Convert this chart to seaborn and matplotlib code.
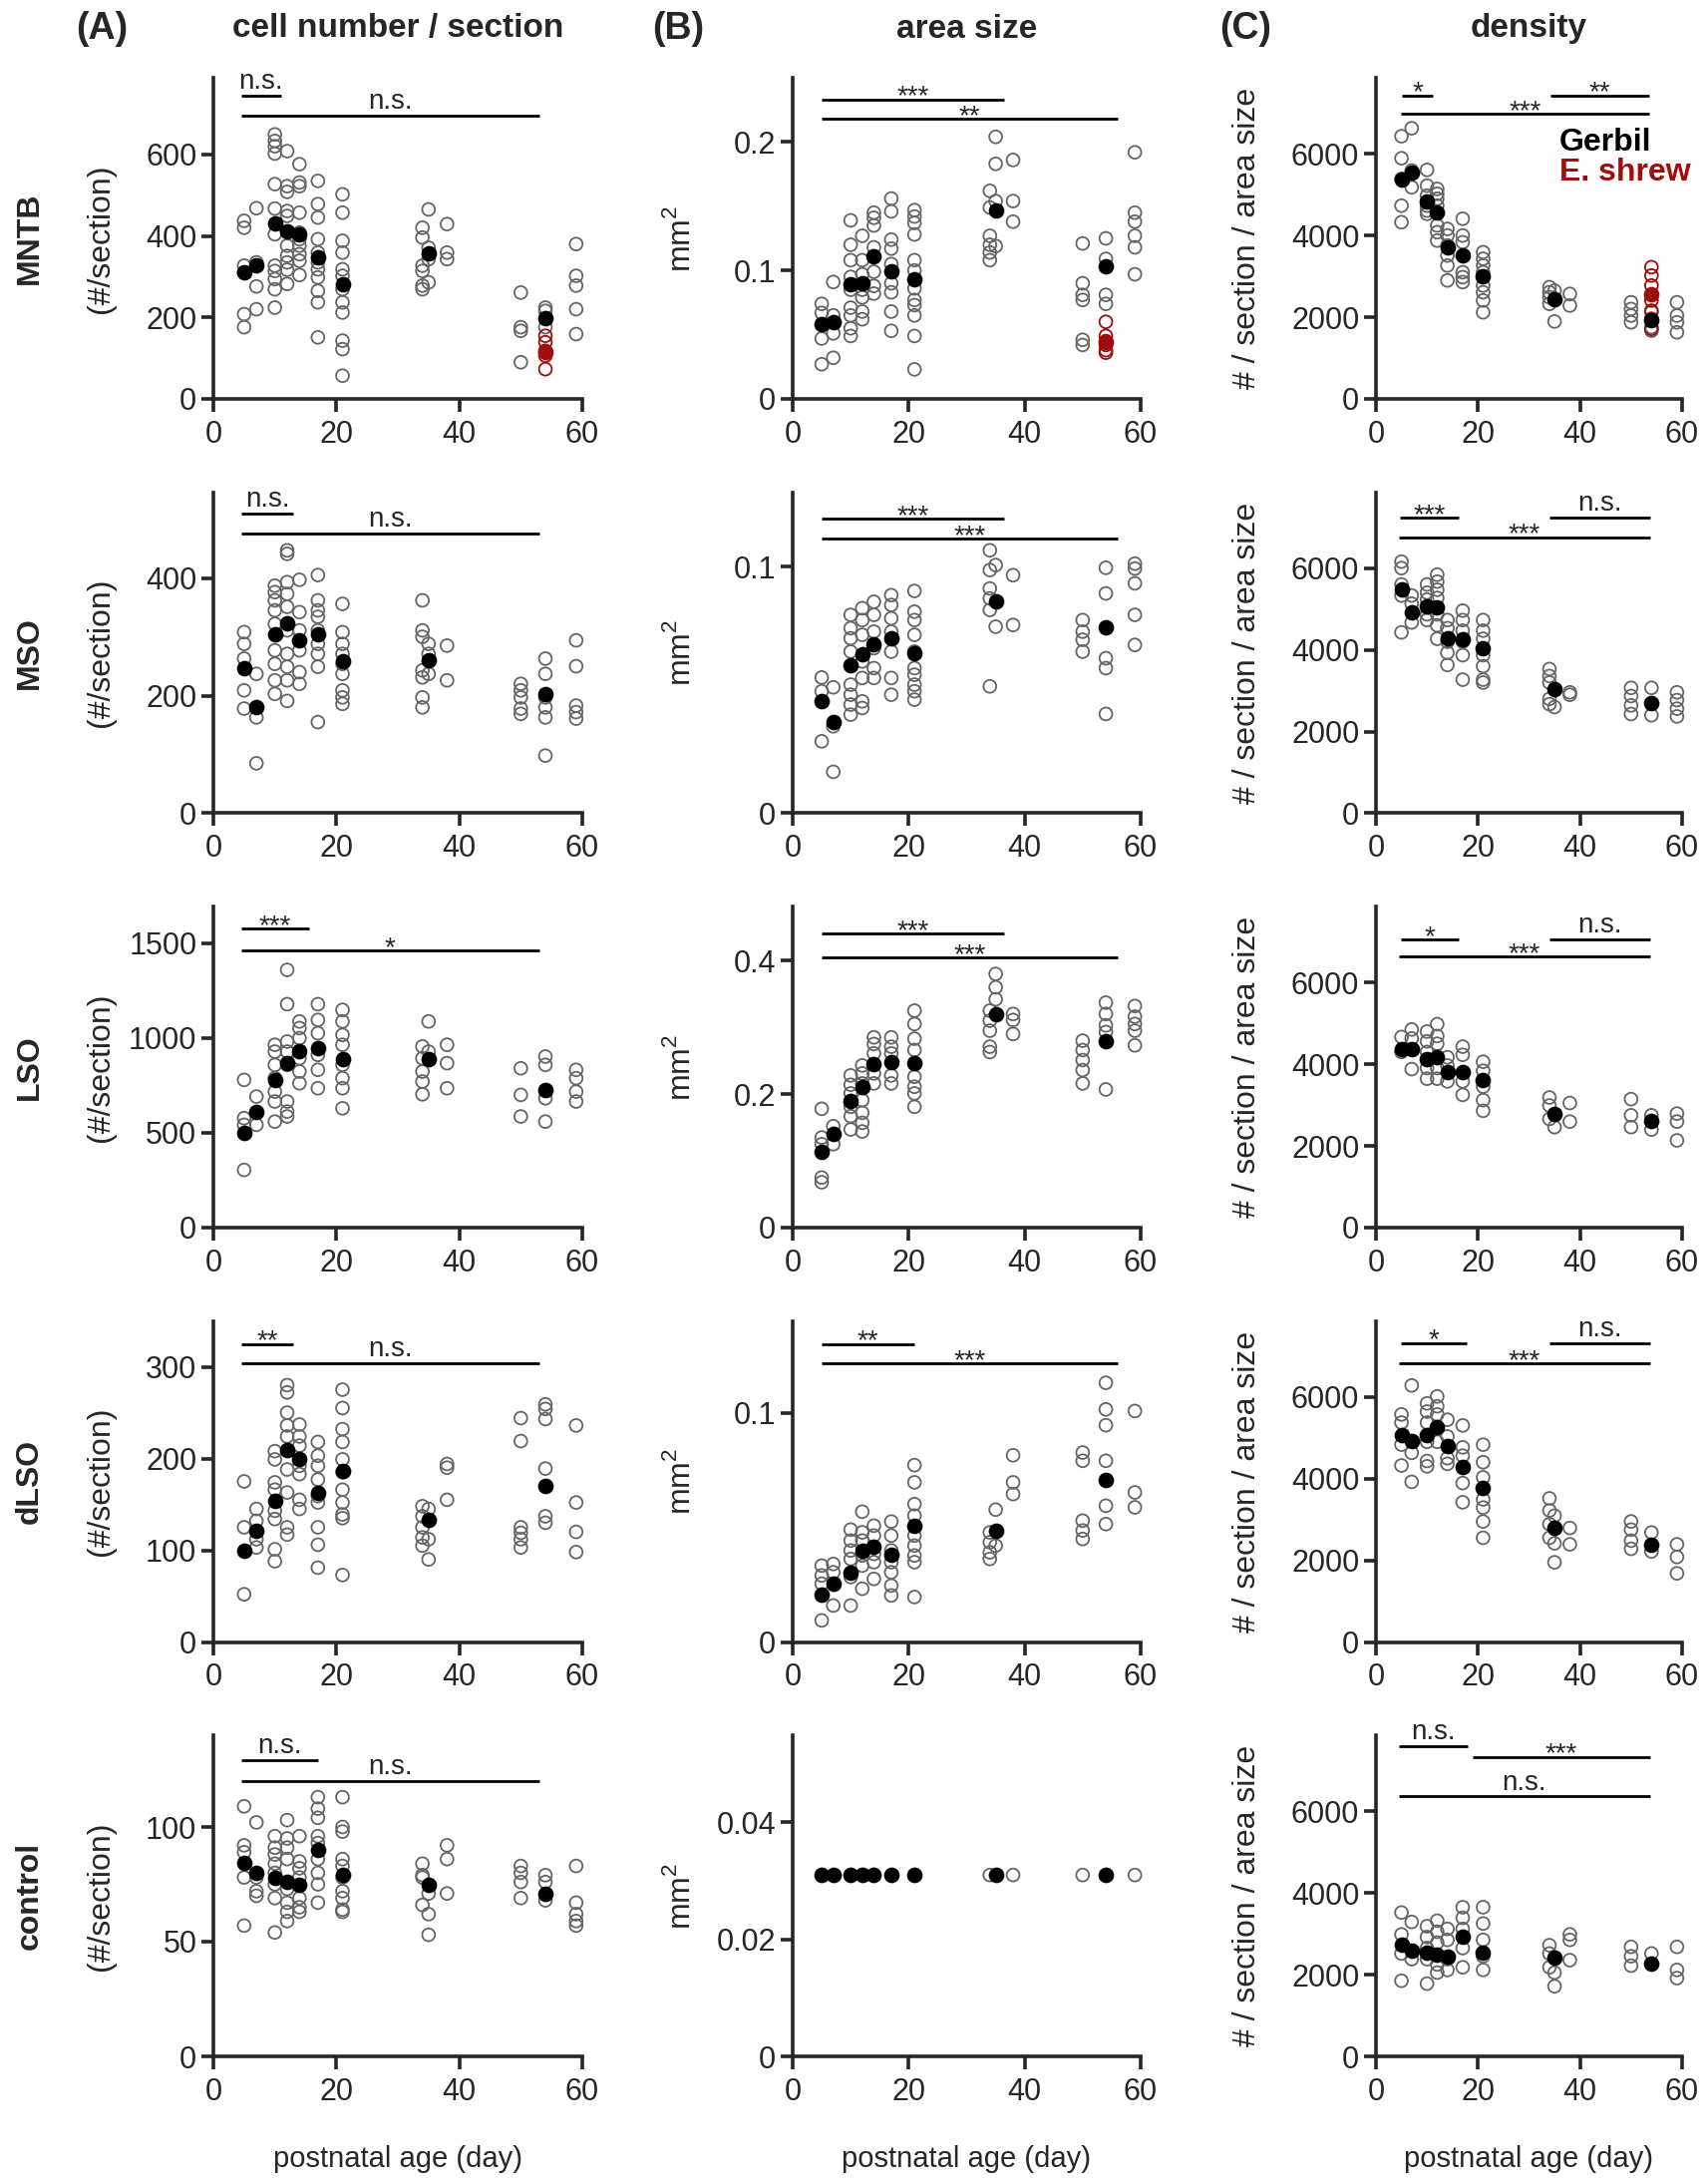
import matplotlib
matplotlib.use("Agg")
import pandas as pd
import matplotlib.pyplot as plt
import seaborn as sns
from matplotlib.ticker import FuncFormatter

sns.set_style("ticks")
plt.rcParams['font.family'] = ['Liberation Sans', 'DejaVu Sans']
plt.rcParams['mathtext.fontset'] = 'custom'
plt.rcParams['mathtext.rm'] = 'Liberation Sans'

# postnatal ages of the single animals / of the group means
ages = [5, 7, 10, 12, 14, 17, 21, 34, 35, 38, 50, 54, 59]
mean_ages = [5, 7, 10, 12, 14, 17, 21, 35, 54]
shrew_age = 54

# ---------------- MNTB
mntb_cells = [[437, 420, 327, 310, 208, 176], [468, 335, 327, 276, 220],
              [649, 633, 620, 602, 527, 467, 404, 327, 314, 294, 269, 224],
              [608, 522, 508, 461, 449, 376, 351, 335, 317, 282],
              [576, 531, 522, 457, 408, 392, 376, 355, 339, 304],
              [535, 478, 445, 392, 359, 335, 318, 298, 265, 237, 151],
              [502, 457, 388, 359, 318, 302, 269, 237, 212, 143, 122, 57],
              [420, 396, 327, 314, 278, 269], [465, 371, 343, 286], [429, 359, 343],
              [261, 176, 167, 90], [224, 216, 176], [380, 302, 278, 220, 159]]
mntb_cells_mean = [310, 327, 431, 411, 404, 347, 282, 358, 198]
mntb_cells_shrew = [155, 139, 118, 106, 73]
mntb_cells_shrew_mean = 114

mntb_area = [[.074, .067, .047, .027], [.091, .065, .051, .032],
             [.139, .120, .108, .095, .085, .071, .065, .055, .049],
             [.127, .108, .097, .085, .079, .068, .062],
             [.145, .141, .135, .118, .099, .088, .082],
             [.156, .146, .124, .117, .105, .090, .083, .068, .053],
             [.147, .142, .137, .128, .108, .100, .086, .077, .073, .065, .049, .023],
             [.162, .149, .127, .120, .114, .108], [.204, .183, .154, .119], [.186, .154, .138],
             [.121, .090, .081, .077, .046, .042], [.125, .109, .081, .074],
             [.192, .145, .138, .127, .118, .097]]
mntb_area_mean = [.058, .060, .089, .090, .111, .099, .093, .147, .103]
mntb_area_shrew = [.060, .049, .045, .042, .038, .036]
mntb_area_shrew_mean = .044

mntb_density = [[6430, 5890, 5385, 4730, 4325], [6625, 5590, 5180],
                [5605, 5220, 4975, 4730, 4610, 4530],
                [5140, 5020, 4900, 4730, 4245, 4080, 3875],
                [4160, 4000, 3755, 3510, 3265, 2900],
                [4410, 4000, 3835, 3100, 2980, 2860],
                [3590, 3430, 3265, 3100, 2775, 2610, 2410, 2120],
                [2735, 2610, 2490, 2325], [2650, 1895], [2570, 2285],
                [2365, 2200, 2040, 1875], [2120, 1755, 1670], [2365, 2040, 1875, 1630]]
mntb_density_mean = [5370, 5550, 4830, 4555, 3715, 3510, 3000, 2430, 1935]
mntb_density_shrew = [3225, 3020, 2775, 2410, 2160, 1960, 1715]
mntb_density_shrew_mean = 2570

# ---------------- MSO
mso_cells = [[308, 288, 263, 209, 178], [237, 163, 85],
             [387, 376, 362, 345, 322, 277, 254, 226, 203],
             [447, 441, 393, 373, 351, 311, 271, 249, 226, 191],
             [397, 342, 311, 277, 240, 220],
             [405, 362, 345, 334, 311, 288, 271, 249, 155],
             [356, 308, 288, 271, 254, 237, 209, 197, 186],
             [362, 311, 300, 243, 231, 197, 180], [288, 271, 237], [285, 226],
             [220, 209, 197, 178, 169], [263, 237, 197, 180, 163, 98], [294, 250, 183, 172, 161]]
mso_cells_mean = [246, 180, 304, 323, 294, 304, 258, 260, 203]

mso_area = [[.0551, .0495, .0292], [.0511, .0353, .0168],
            [.0805, .0751, .0710, .0656, .0522, .0481, .0441, .0400],
            [.0832, .0784, .0724, .0616, .0549, .0454, .0427],
            [.0858, .0805, .0737, .0670, .0589, .0549],
            [.0885, .0845, .0791, .0737, .0656, .0549, .0481],
            [.0902, .0818, .0784, .0724, .0656, .0589, .0562, .0522, .0495, .0461],
            [.1067, .0987, .0912, .0872, .0825, .0515], [.1007, .0757], [.0966, .0764],
            [.0784, .0737, .0704, .0656], [.0996, .0892, .0629, .0589, .0403],
            [.1013, .0993, .0933, .0805, .0683]]
mso_area_mean = [.0457, .0371, .0602, .0646, .0686, .0710, .0650, .0861, .0753]

mso_density = [[6160, 6000, 5600, 5330, 4427], [5330, 5130, 4670],
               [5600, 5400, 5230, 4870, 4730],
               [5840, 5670, 5470, 5270, 4870, 4600, 4270],
               [4730, 4530, 4200, 3930, 3630],
               [4960, 4730, 4470, 4200, 3870, 3270],
               [4730, 4470, 4270, 3870, 3600, 3270, 3200],
               [3530, 3360, 3200, 2800, 2670], [2600], [2960, 2900],
               [3070, 2870, 2640, 2430], [3070, 2400], [2960, 2770, 2560, 2370]]
mso_density_mean = [5490, 4930, 5070, 5040, 4290, 4270, 4040, 3030, 2690]

# ---------------- LSO
lso_cells = [[779, 577, 542, 304], [691, 542],
             [964, 928, 858, 788, 717, 665, 559],
             [1359, 1178, 981, 928, 858, 665, 612, 586],
             [1087, 1052, 999, 893, 823, 761],
             [1178, 1095, 1025, 911, 832, 735],
             [1148, 1087, 1016, 964, 858, 788, 735, 629],
             [955, 893, 823, 770, 703], [1087, 928], [964, 867, 735],
             [840, 700, 586], [902, 858, 682, 559], [832, 788, 717, 665]]
lso_cells_mean = [498, 612, 779, 867, 932, 946, 890, 890, 726]

lso_area = [[.178, .135, .125, .075, .068], [.152, .125],
            [.228, .214, .201, .181, .167, .147],
            [.243, .231, .216, .191, .172, .157, .144],
            [.285, .275, .261, .231, .216],
            [.285, .271, .261, .228, .216],
            [.325, .305, .283, .266, .226, .211, .201, .181],
            [.325, .310, .295, .271, .263], [.380, .360, .342], [.320, .311, .290],
            [.280, .266, .251, .236, .216], [.337, .320, .303, .293, .207],
            [.332, .316, .305, .295, .273]]
lso_area_mean = [.113, .141, .189, .210, .245, .248, .247, .319, .279]

lso_density = [[4666, 4300], [4850, 4630, 3880],
               [4800, 4560, 4300, 3905, 3645],
               [4980, 4690, 4500, 3905, 3645],
               [4170, 3970, 3580],
               [4430, 4230, 3580, 3250],
               [4060, 3840, 3450, 3120, 2860],
               [3185, 2990, 2660], [2460], [3050, 2595],
               [3145, 2750, 2460], [2750, 2400], [2790, 2595, 2135]]
lso_density_mean = [4365, 4365, 4130, 4170, 3815, 3800, 3620, 2790, 2620]

# ---------------- dLSO
dlso_cells = [[175, 125, 52], [145, 132, 112, 103],
              [208, 199, 174, 166, 143, 134, 101, 88],
              [280, 272, 250, 236, 224, 188, 163, 125, 117],
              [237, 224, 214, 192, 183, 155, 145],
              [218, 203, 192, 177, 159, 152, 125, 106, 81],
              [275, 255, 232, 218, 199, 185, 166, 152, 139, 135, 73],
              [148, 137, 125, 114, 105], [145, 112, 90], [194, 190, 155],
              [244, 219, 125, 119, 112, 103], [259, 254, 243, 189, 137, 130],
              [236, 152, 120, 98]]
dlso_cells_mean = [100, 121, 154, 209, 199, 163, 186, 133, 170]

dlso_area = [[.0333, .0290, .0254, .0094], [.0340, .0304, .0159],
             [.0490, .0442, .0399, .0362, .0283, .0159],
             [.0568, .0478, .0442, .0377, .0333, .0232],
             [.0507, .0464, .0384, .0348, .0275],
             [.0525, .0464, .0399, .0348, .0304, .0246, .0203],
             [.0771, .0696, .0601, .0551, .0464, .0420, .0377, .0348, .0196],
             [.0478, .0435, .0391, .0362], [.0577, .0420], [.0814, .0696, .0645],
             [.0826, .0790, .0529, .0486, .0449], [.1130, .1014, .0945, .0790, .0594, .0514],
             [.1007, .0652, .0587]]
dlso_area_mean = [.0206, .0254, .0304, .0399, .0417, .0380, .0507, .0486, .0707]

dlso_density = [[5570, 5370, 4830, 4320], [6280, 4630, 3920],
                [5840, 5640, 5370, 4900, 4430, 4300],
                [6010, 5770, 5570, 4900],
                [5440, 5030, 4500, 4360],
                [5300, 4765, 4560, 3890, 3420],
                [4830, 4400, 4030, 3490, 3290, 2950, 2550],
                [3515, 3220, 2885, 2550], [3090, 2415, 1950], [2790, 2390],
                [2950, 2750, 2480, 2280], [2680, 2215], [2390, 2080, 1680]]
dlso_density_mean = [5070, 4925, 5070, 5260, 4790, 4295, 3760, 2790, 2390]

# ---------------- control
ctrl_cells = [[109, 92, 89, 78, 57], [102, 78, 72, 70],
              [96, 91, 88, 84, 80, 75, 69, 54],
              [103, 95, 91, 86, 73, 67, 63, 59],
              [96, 85, 82, 78, 69, 65, 63],
              [113, 108, 104, 96, 93, 86, 80, 75, 67],
              [113, 100, 98, 86, 83, 78, 72, 69, 64, 63],
              [84, 79, 78, 66], [71, 62, 53], [92, 86, 71],
              [83, 80, 76, 69], [79, 76, 68], [83, 67, 62, 59, 57]]
ctrl_cells_mean = [84.5, 80, 78, 76, 75, 90, 79, 75, 71]

ctrl_area = [[], [], [], [.031], [.031], [], [], [.031], [], [.031], [.031], [], [.031]]
ctrl_area_mean = [.031, .031, .031, .031, .031, .031, .031, .031, .031]

ctrl_density = [[3520, 2985, 2517, 1850], [3290, 2380],
                [3185, 2920, 2650, 2380, 1780],
                [3320, 3050, 2785, 2250, 2050],
                [3120, 2850, 2380, 2115],
                [3650, 3390, 3120, 2650, 2180],
                [3650, 3250, 2850, 2450, 2115],
                [2720, 2517, 2180], [2050, 1715], [2985, 2850, 2355],
                [2680, 2450, 2220], [2517], [2680, 2115, 1915]]
ctrl_density_mean = [2745, 2585, 2545, 2490, 2450, 2920, 2545, 2410, 2275]

# significance bars: (from age, to age, level, label)
mntb_cells_sig = [(4.5, 11, 745, 'n.s.'), (4.5, 53, 695, 'n.s.')]
mntb_area_sig = [(5, 36.5, .2333, '***'), (5, 56, .218, '**')]
mntb_density_sig = [(5, 11.2, 7425, '*'), (34.2, 53.6, 7425, '**'), (4.9, 53.6, 6975, '***')]
mso_cells_sig = [(4.5, 13, 509, 'n.s.'), (4.5, 53, 475, 'n.s.')]
mso_area_sig = [(5, 36.5, .1195, '***'), (5, 56, .1115, '***')]
mso_density_sig = [(4.7, 16.2, 7230, '***'), (34.1, 53.7, 7230, 'n.s.'), (4.5, 53.7, 6760, '***')]
lso_cells_sig = [(4.5, 15.5, 1575, '***'), (4.5, 53, 1460, '*')]
lso_area_sig = [(5, 36.5, .440, '***'), (5, 56, .405, '***')]
lso_density_sig = [(4.9, 16.2, 7050, '*'), (34.1, 53.7, 7050, 'n.s.'), (4.5, 53.7, 6630, '***')]
dlso_cells_sig = [(4.5, 13, 325, '**'), (4.5, 53, 304, 'n.s.')]
dlso_area_sig = [(5, 21, .130, '**'), (5, 56, .1214, '***')]
dlso_density_sig = [(4.9, 17.7, 7315, '*'), (34.1, 53.7, 7315, 'n.s.'), (4.5, 53.7, 6820, '***')]
ctrl_cells_sig = [(4.5, 17, 129, 'n.s.'), (4.5, 53, 120, 'n.s.')]
ctrl_area_sig = []
ctrl_density_sig = [(4.5, 17.9, 7600, 'n.s.'), (18.9, 53.7, 7335, '***'), (4.5, 53.7, 6360, 'n.s.')]

row_names = ['MNTB', 'MSO', 'LSO', 'dLSO', 'control']
col_titles = ['cell number / section', 'area size', 'density']
col_letters = ['(A)', '(B)', '(C)']
col_ylabels = ['(#/section)', 'mm$^2$', '# / section / area size']

GREY = '#656565'
RED = '#a00d0d'

panels = [
    [(mntb_cells, mntb_cells_mean, mntb_cells_sig, 788, [0, 200, 400, 600], mntb_cells_shrew, mntb_cells_shrew_mean),
     (mntb_area, mntb_area_mean, mntb_area_sig, .25, [0, .1, .2], mntb_area_shrew, mntb_area_shrew_mean),
     (mntb_density, mntb_density_mean, mntb_density_sig, 7860, [0, 2000, 4000, 6000], mntb_density_shrew, mntb_density_shrew_mean)],
    [(mso_cells, mso_cells_mean, mso_cells_sig, 546, [0, 200, 400], None, None),
     (mso_area, mso_area_mean, mso_area_sig, .1303, [0, .1], None, None),
     (mso_density, mso_density_mean, mso_density_sig, 7860, [0, 2000, 4000, 6000], None, None)],
    [(lso_cells, lso_cells_mean, lso_cells_sig, 1693, [0, 500, 1000, 1500], None, None),
     (lso_area, lso_area_mean, lso_area_sig, .481, [0, .2, .4], None, None),
     (lso_density, lso_density_mean, lso_density_sig, 7860, [0, 2000, 4000, 6000], None, None)],
    [(dlso_cells, dlso_cells_mean, dlso_cells_sig, 350, [0, 100, 200, 300], None, None),
     (dlso_area, dlso_area_mean, dlso_area_sig, .140, [0, .1], None, None),
     (dlso_density, dlso_density_mean, dlso_density_sig, 7860, [0, 2000, 4000, 6000], None, None)],
    [(ctrl_cells, ctrl_cells_mean, ctrl_cells_sig, 140, [0, 50, 100], None, None),
     (ctrl_area, ctrl_area_mean, ctrl_area_sig, .0549, [0, .02, .04], None, None),
     (ctrl_density, ctrl_density_mean, ctrl_density_sig, 7860, [0, 2000, 4000, 6000], None, None)],
]

W, H = 1713, 2187
fig = plt.figure(figsize=(W / 100, H / 100), dpi=100)

col_px = [(214, 370), (795, 349), (1380, 307)]
row_bottom_px = [400, 815.5, 1231, 1646.5, 2062]
ax_h = 322
ylab_x = [-0.305, -0.32, -0.42]

fmt = FuncFormatter(lambda v, p: '0' if v == 0 else f'{v:g}')


def draw_panel(ax, groups, means, sig, ymax, yticks, shrew, shrew_mean):
    df = pd.DataFrame([(a, v) for a, vals in zip(ages, groups) for v in vals],
                      columns=['age', 'value'])
    if len(df):
        sns.scatterplot(data=df, x='age', y='value', ax=ax, s=85, facecolor='none',
                        edgecolor=GREY, linewidth=1.3, clip_on=False, zorder=2)
    if shrew is not None:
        sdf = pd.DataFrame({'age': [shrew_age] * len(shrew), 'value': shrew})
        sns.scatterplot(data=sdf, x='age', y='value', ax=ax, s=85, facecolor='none',
                        edgecolor=RED, linewidth=1.3, clip_on=False, zorder=3)
    mdf = pd.DataFrame({'age': mean_ages, 'value': means})
    sns.scatterplot(data=mdf, x='age', y='value', ax=ax, s=128, color='black',
                    linewidth=0, clip_on=False, zorder=4)
    if shrew_mean is not None:
        ax.scatter([shrew_age], [shrew_mean], s=128, color=RED, linewidth=0, zorder=5)

    for x0, x1, y, lab in sig:
        ax.plot([x0, x1], [y, y], color='black', lw=2, solid_capstyle='butt', clip_on=False)
        off = 5 if lab == 'n.s.' else -3.5
        ax.annotate(lab, xy=((x0 + x1) / 2, y), xytext=(0, off), textcoords='offset points',
                    ha='center', va='baseline', fontsize=20, annotation_clip=False)

    ax.set_xlim(0, 60)
    ax.set_ylim(0, ymax)
    ax.set_xticks([0, 20, 40, 60])
    ax.set_yticks(yticks)
    ax.yaxis.set_major_formatter(fmt)
    ax.set_xlabel('')
    ax.set_ylabel('')
    ax.tick_params(axis='both', length=9, width=2.6, labelsize=22, direction='out')
    ax.tick_params(axis='x', pad=6)
    ax.tick_params(axis='y', pad=3)
    for s in ['left', 'bottom']:
        ax.spines[s].set_linewidth(2.6)
    sns.despine(ax=ax)


for r in range(5):
    for c in range(3):
        left, width = col_px[c]
        bottom = row_bottom_px[r]
        ax = fig.add_axes([left / W, 1 - bottom / H, width / W, ax_h / H])
        draw_panel(ax, *panels[r][c])
        ax.text(ylab_x[c], 0.5, col_ylabels[c], transform=ax.transAxes, rotation=90,
                ha='center', va='center', fontsize=23)
        if r == 4:
            ax.text(0.5, -0.32, 'postnatal age (day)', transform=ax.transAxes,
                    ha='center', va='center', fontsize=21)
        if r == 0 and c == 2:
            ax.text(36, 6280, 'Gerbil', fontsize=23, fontweight='bold', color='black',
                    ha='left', va='center')
            ax.text(36, 5550, 'E. shrew', fontsize=23, fontweight='bold', color=RED,
                    ha='left', va='center')
    fig.text(30 / W, 1 - (row_bottom_px[r] - ax_h / 2) / H, row_names[r], rotation=90,
             ha='center', va='center', fontsize=23, fontweight='bold')

letter_x = [102, 680, 1249]
for c in range(3):
    left, width = col_px[c]
    fig.text((left + width / 2) / W, 1 - 29 / H, col_titles[c], ha='center', va='center',
             fontsize=24, fontweight='bold')
    fig.text(letter_x[c] / W, 1 - 29 / H, col_letters[c], ha='center', va='center',
             fontsize=27, fontweight='bold')

fig.savefig('out.png', dpi=100)
